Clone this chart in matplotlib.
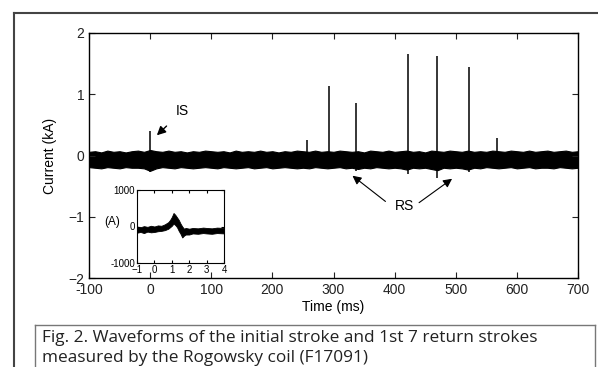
import matplotlib
matplotlib.use("Agg")
import matplotlib.pyplot as plt
from matplotlib.lines import Line2D

# ---- main panel data (kA vs ms) ----
band_t = [-100, -90, -80, -70, -60, -50, -40, -30, -20, -10, 0, 10, 20, 30, 40, 50, 60, 70, 80, 90,
          100, 110, 120, 130, 140, 150, 160, 170, 180, 190, 200, 210, 220, 230, 240, 250, 260, 270,
          280, 290, 300, 310, 320, 330, 340, 350, 360, 370, 380, 390, 400, 410, 420, 430, 440, 450,
          460, 470, 480, 490, 500, 510, 520, 530, 540, 550, 560, 570, 580, 590, 600, 610, 620, 630,
          640, 650, 660, 670, 680, 690, 700]
band_hi = [0.06, 0.07, 0.05, 0.08, 0.06, 0.07, 0.05, 0.07, 0.08, 0.06, 0.09, 0.07, 0.06, 0.08, 0.06,
           0.07, 0.05, 0.07, 0.06, 0.08, 0.07, 0.06, 0.07, 0.05, 0.08, 0.06, 0.07, 0.06, 0.08, 0.06,
           0.07, 0.05, 0.07, 0.06, 0.08, 0.07, 0.06, 0.08, 0.06, 0.07, 0.06, 0.08, 0.07, 0.06, 0.07,
           0.05, 0.08, 0.07, 0.06, 0.08, 0.06, 0.07, 0.08, 0.06, 0.07, 0.05, 0.08, 0.07, 0.06, 0.08,
           0.07, 0.06, 0.08, 0.06, 0.07, 0.06, 0.08, 0.07, 0.06, 0.08, 0.07, 0.06, 0.08, 0.06, 0.07,
           0.08, 0.06, 0.07, 0.08, 0.06, 0.07]
band_lo = [-0.19, -0.2, -0.21, -0.19, -0.2, -0.21, -0.19, -0.2, -0.2, -0.21, -0.25, -0.21, -0.19,
           -0.2, -0.21, -0.19, -0.2, -0.21, -0.2, -0.19, -0.2, -0.21, -0.19, -0.2, -0.21, -0.2,
           -0.19, -0.21, -0.2, -0.19, -0.21, -0.2, -0.19, -0.2, -0.21, -0.2, -0.21, -0.19, -0.2,
           -0.21, -0.2, -0.19, -0.21, -0.2, -0.22, -0.2, -0.21, -0.19, -0.2, -0.21, -0.2, -0.21,
           -0.23, -0.2, -0.21, -0.2, -0.22, -0.24, -0.2, -0.21, -0.2, -0.21, -0.23, -0.2, -0.21,
           -0.19, -0.2, -0.21, -0.2, -0.19, -0.21, -0.2, -0.19, -0.21, -0.2, -0.2, -0.21, -0.19,
           -0.2, -0.21, -0.2]

spike_t = [0, 257, 293, 337, 422, 470, 522, 568]
spike_top = [0.40, 0.25, 1.13, 0.85, 1.66, 1.62, 1.45, 0.28]
spike_bot = [-0.27, -0.22, -0.22, -0.25, -0.30, -0.36, -0.27, -0.22]

x_ticks = [-100, 0, 100, 200, 300, 400, 500, 600, 700]
y_ticks = [-2, -1, 0, 1, 2]

# ---- inset data (A vs ms) ----
in_t = [-1.0, -0.8, -0.6, -0.4, -0.2, 0.0, 0.2, 0.4, 0.6, 0.8, 0.9, 1.0, 1.1, 1.2, 1.3, 1.4,
        1.5, 1.6, 1.7, 1.8, 2.0, 2.2, 2.5, 2.8, 3.0, 3.3, 3.6, 4.0]
in_hi = [0, -20, 10, -10, 20, 0, 30, 20, 60, 120, 180, 260, 370, 320, 250, 180,
         80, 0, -60, -40, -60, -40, -50, -30, -40, -50, -30, -40]
in_lo = [-170, -150, -180, -140, -160, -150, -130, -120, -100, -60, -20, 20, 80, 40, -20, -120,
         -200, -300, -250, -220, -220, -190, -200, -180, -190, -200, -180, -190]
in_x_ticks = [-1, 0, 1, 2, 3, 4]
in_y_ticks = [-1000, 0, 1000]

caption = ("Fig. 2. Waveforms of the initial stroke and 1st 7 return strokes\n"
           "measured by the Rogowsky coil (F17091)")

plt.rcParams['font.family'] = ['Liberation Sans', 'DejaVu Sans']

fig = plt.figure(figsize=(5.98, 3.67), dpi=100)
W, H = 598, 367

def fx(p):
    return p / W

def fy(p):
    return 1 - p / H

# outer frame
fig.add_artist(Line2D([fx(14), fx(14)], [fy(13), 0], color='#444444', lw=1.5))
fig.add_artist(Line2D([fx(14), 1], [fy(13), fy(13)], color='#444444', lw=1.5))
# caption box
fig.add_artist(Line2D([fx(35), fx(35)], [fy(325), 0], color='#777777', lw=1.0))
fig.add_artist(Line2D([fx(35), fx(595)], [fy(325), fy(325)], color='#777777', lw=1.0))
fig.add_artist(Line2D([fx(595), fx(595)], [fy(325), 0], color='#777777', lw=1.0))
fig.text(fx(42), fy(348), caption, fontsize=12.4, family=['Open Sans', 'DejaVu Sans'],
         color='#222222', va='center', ha='left', linespacing=1.4)

ax = fig.add_axes([fx(89), fy(278), fx(578) - fx(89), fy(33) - fy(278)])
ax.fill_between(band_t, band_lo, band_hi, color='black', lw=0.8, edgecolor='black')
ax.vlines(spike_t, spike_bot, spike_top, color='black', lw=1.1)
ax.set_xlim(-100, 700)
ax.set_ylim(-2, 2)
ax.set_xticks(x_ticks)
ax.set_yticks(y_ticks)
ax.set_yticklabels(['\u22122', '\u22121', '0', '1', '2'])
ax.set_xticklabels(['-100'] + [str(v) for v in x_ticks[1:]])
ax.tick_params(direction='in', top=True, right=True, labelsize=10, length=4, colors='#222222')
ax.set_xlabel('Time (ms)', fontsize=10, labelpad=2)
ax.set_ylabel('Current (kA)', fontsize=10, labelpad=8)
for s in ax.spines.values():
    s.set_linewidth(1.0)

ax.annotate('IS', xy=(11, 0.33), xytext=(52, 0.72), fontsize=10, ha='center', va='center',
            arrowprops=dict(arrowstyle='-|>', color='black', lw=1.0, shrinkA=6, shrinkB=0,
                            mutation_scale=13))
ax.text(416, -0.82, 'RS', fontsize=10, ha='center', va='center')
ax.annotate('', xy=(331, -0.33), xytext=(385, -0.75),
            arrowprops=dict(arrowstyle='-|>', color='black', lw=0.8, shrinkA=0, shrinkB=0,
                            mutation_scale=13))
ax.annotate('', xy=(494, -0.38), xytext=(440, -0.77),
            arrowprops=dict(arrowstyle='-|>', color='black', lw=0.8, shrinkA=0, shrinkB=0,
                            mutation_scale=13))

# inset
axi = fig.add_axes([fx(137), fy(263), fx(224) - fx(137), fy(190) - fy(263)])
axi.fill_between(in_t, in_lo, in_hi, color='black', lw=0.6, edgecolor='black')
axi.set_xlim(-1, 4)
axi.set_ylim(-1000, 1000)
axi.set_xticks(in_x_ticks)
axi.set_yticks(in_y_ticks)
axi.set_yticklabels(['-1000', '0', '1000'])
axi.tick_params(direction='in', labelsize=7, length=2.5, pad=1.5, top=True, right=True)
fig.text(fx(112), fy(222), '(A)', fontsize=8.5, ha='center', va='center')

fig.savefig('out.png', dpi=100)
